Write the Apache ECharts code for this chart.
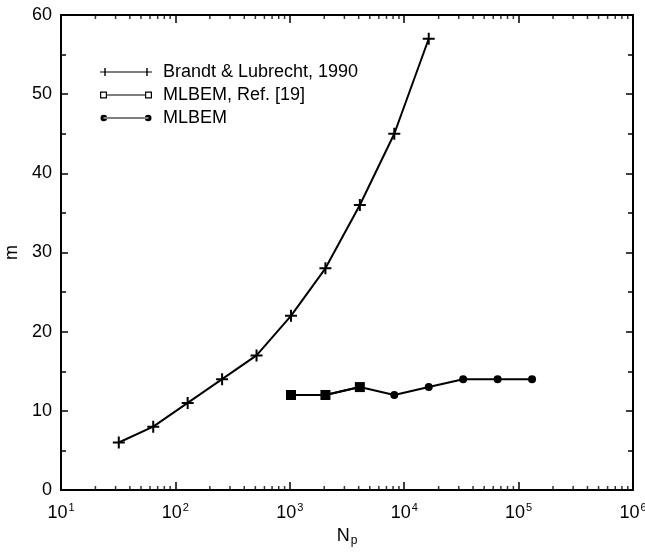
<!DOCTYPE html>
<html>
<head>
<meta charset="utf-8">
<script src="https://cdn.jsdelivr.net/npm/echarts@6/dist/echarts.min.js"></script>
<style>
  html, body { margin: 0; padding: 0; background: #fff; }
  #chart { width: 645px; height: 552px; }
</style>
</head>
<body>
<div id="chart"></div>
<script>
// data
const brandtNp = [32, 64, 128, 256, 512, 1024, 2048, 4096, 8192, 16384];
const brandtM = [6, 8, 11, 14, 17, 22, 28, 36, 45, 57];
const refNp = [1024, 2048, 4096];
const refM = [12, 12, 13];
const mlbemNp = [1024, 2048, 4096, 8192, 16384, 32768, 65536, 131072];
const mlbemM = [12, 12, 13, 12, 13, 14, 14, 14];
const seriesNames = ['Brandt & Lubrecht, 1990', 'MLBEM, Ref. [19]', 'MLBEM'];

const FONT = '"Liberation Sans", Arial, Helvetica, sans-serif';
const plusSym = 'path://M5,0H7V12H5Z M0,5H12V7H0Z';

// legend icons, 52x10 boxes (line with a marker at each end)
const iconPlus = 'path://M0,0 M52,10 M0,4.4H52V5.6H0Z M4.3,1H5.7V9H4.3Z M46.3,1H47.7V9H46.3Z';
const iconSquare = 'path://M0,0 M52,10 M0,1.5H7V8.5H0Z M1.2,2.7V7.3H5.8V2.7Z M7,4.4H45V5.6H7Z M45,1.5H52V8.5H45Z M46.2,2.7V7.3H50.8V2.7Z';
const iconCircle = 'path://M0,0 M52,10 M3.5,4.4H48.5V5.6H3.5Z M0.5,5A3.3,3.3,0,1,0,7.1,5A3.3,3.3,0,1,0,0.5,5Z M44.9,5A3.3,3.3,0,1,0,51.5,5A3.3,3.3,0,1,0,44.9,5Z';

function zip(xs, ys) {
  return xs.map(function (x, i) { return [x, ys[i]]; });
}

// minor ticks of the log axis (2..9 in every decade), bottom and top
const minorBottom = [];
const minorTop = [];
for (let n = 1; n < 6; n++) {
  for (let k = 2; k < 10; k++) {
    minorBottom.push([k * Math.pow(10, n), 0]);
    minorTop.push([k * Math.pow(10, n), 60]);
  }
}

const chart = echarts.init(document.getElementById('chart'), null, { renderer: 'canvas' });

const axisLine = { show: true, onZero: false, lineStyle: { color: '#000', width: 2 } };
const tickStyle = { color: '#000', width: 1.5 };

const option = {
  backgroundColor: '#fff',
  animation: false,
  textStyle: { fontFamily: FONT },
  grid: { left: 61, right: 12, top: 15, bottom: 62, containLabel: false, outerBoundsMode: 'none' },
  legend: {
    orient: 'vertical',
    left: 95,
    top: 58,
    itemWidth: 52,
    itemHeight: 10,
    itemGap: 5,
    textStyle: { fontSize: 18, color: '#000', fontFamily: FONT, lineHeight: 18, padding: [0, 0, 0, 6] },
    data: [
      { name: seriesNames[0], icon: iconPlus, itemStyle: { color: '#000' } },
      { name: seriesNames[1], icon: iconSquare, itemStyle: { color: '#000' } },
      { name: seriesNames[2], icon: iconCircle, itemStyle: { color: '#000' } }
    ]
  },
  xAxis: [
    {
      type: 'log',
      logBase: 10,
      min: 10,
      max: 1e6,
      position: 'bottom',
      name: 'N{sub|p}',
      nameLocation: 'middle',
      nameGap: 36,
      nameTextStyle: {
        fontSize: 18, color: '#000', fontFamily: FONT,
        rich: { sub: { fontSize: 12, color: '#000', verticalAlign: 'bottom', padding: [8, 0, 0, 1], fontFamily: FONT } }
      },
      axisLine: axisLine,
      axisTick: { show: true, inside: true, length: 8, lineStyle: tickStyle },
      splitLine: { show: false },
      axisLabel: {
        margin: 12,
        color: '#000',
        fontSize: 18,
        fontFamily: FONT,
        formatter: function (v) {
          return '10{sup|' + Math.round(Math.log10(v)) + '}';
        },
        rich: { sup: { fontSize: 11, color: '#000', verticalAlign: 'top', padding: [0, 0, 12, 1], fontFamily: FONT } }
      }
    },
    {
      type: 'log',
      logBase: 10,
      min: 10,
      max: 1e6,
      position: 'top',
      axisLine: axisLine,
      axisTick: { show: true, inside: true, length: 8, lineStyle: tickStyle },
      axisLabel: { show: false },
      splitLine: { show: false }
    }
  ],
  yAxis: [
    {
      type: 'value',
      min: 0,
      max: 60,
      interval: 10,
      position: 'left',
      name: 'm',
      nameLocation: 'middle',
      nameGap: 40,
      nameTextStyle: { fontSize: 18, color: '#000', fontFamily: FONT },
      axisLine: axisLine,
      axisTick: { show: true, inside: true, length: 7, lineStyle: tickStyle },
      minorTick: { show: true, splitNumber: 2, length: 5, lineStyle: tickStyle },
      splitLine: { show: false },
      axisLabel: { color: '#000', fontSize: 18, fontFamily: FONT, margin: 9 }
    },
    {
      type: 'value',
      min: 0,
      max: 60,
      interval: 10,
      position: 'right',
      axisLine: axisLine,
      axisTick: { show: true, inside: true, length: 7, lineStyle: tickStyle },
      minorTick: { show: true, splitNumber: 2, length: 5, lineStyle: tickStyle },
      splitLine: { show: false },
      axisLabel: { show: false }
    }
  ],
  series: [
    {
      name: 'minor-bottom',
      type: 'scatter',
      silent: true,
      clip: false,
      symbol: 'rect',
      symbolSize: [1.5, 4],
      symbolOffset: [0, -2],
      itemStyle: { color: '#000' },
      data: minorBottom
    },
    {
      name: 'minor-top',
      type: 'scatter',
      silent: true,
      clip: false,
      symbol: 'rect',
      symbolSize: [1.5, 4],
      symbolOffset: [0, 2],
      itemStyle: { color: '#000' },
      data: minorTop
    },
    {
      name: seriesNames[0],
      type: 'line',
      symbol: plusSym,
      symbolSize: 12,
      showAllSymbol: true,
      lineStyle: { color: '#000', width: 2 },
      itemStyle: { color: '#000' },
      data: zip(brandtNp, brandtM)
    },
    {
      name: seriesNames[1],
      type: 'line',
      symbol: 'rect',
      symbolSize: 10,
      showAllSymbol: true,
      lineStyle: { color: '#000', width: 2 },
      itemStyle: { color: '#000' },
      data: zip(refNp, refM)
    },
    {
      name: seriesNames[2],
      type: 'line',
      symbol: 'circle',
      symbolSize: 8,
      showAllSymbol: true,
      lineStyle: { color: '#000', width: 2 },
      itemStyle: { color: '#000' },
      data: zip(mlbemNp, mlbemM)
    }
  ]
};

chart.setOption(option);
</script>
</body>
</html>
